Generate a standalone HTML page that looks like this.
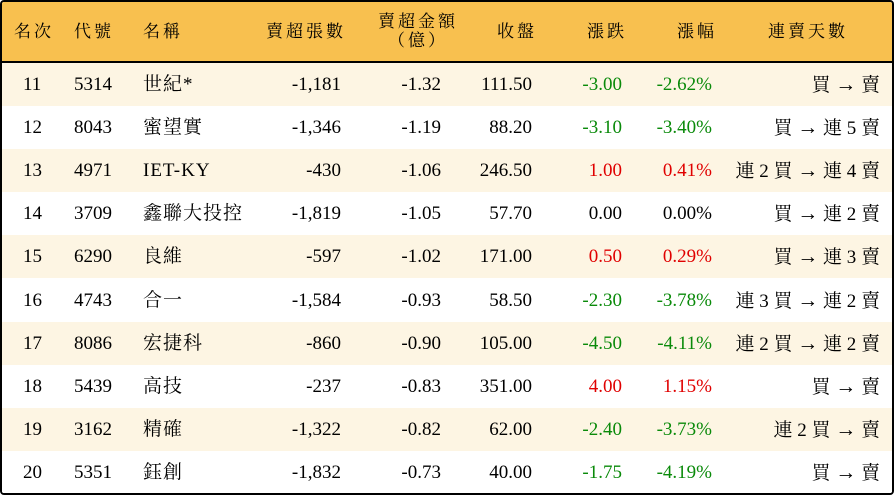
<!DOCTYPE html>
<html><head><meta charset="utf-8"><style>
*{margin:0;padding:0;box-sizing:border-box}
body{width:894px;height:496px;background:#fff;font-family:"Liberation Serif","Noto Serif CJK SC",serif;font-size:19px;color:#000;overflow:hidden}
#f{position:absolute;left:0;top:0;width:894px;height:495px;border:2px solid #000;border-radius:4px;overflow:hidden}
.h{position:absolute;left:0;top:0;width:890px;height:61px;background:#F8C04F;border-bottom:2px solid #000}
.r{position:absolute;left:0;width:890px;height:43px}
.c{position:absolute;top:0;line-height:43px;white-space:nowrap}
.h .c{line-height:59px;letter-spacing:3px;font-size:17px}
.g{color:#0a8a0a}.red{color:#e00000}
.n{letter-spacing:1px}
.a{font-size:21px}
</style></head><body><div id="f">
<div class="h">
<div class="c" style="left:12px">名次</div>
<div class="c" style="left:72px">代號</div>
<div class="c" style="left:141px">名稱</div>
<div class="c" style="right:546px">賣超張數</div>
<div class="c" style="left:376px;width:80px;text-align:center;line-height:19px;top:10px">賣超金額<br>（億）</div>
<div class="c" style="right:355px">收盤</div>
<div class="c" style="right:265px">漲跌</div>
<div class="c" style="right:175px">漲幅</div>
<div class="c" style="left:766px">連賣天數</div>
</div>
<div id="rows"></div>
</div>
<script>
var d=[
["11","5314","世紀*","-1,181","-1.32","111.50","-3.00","-2.62%","買 → 賣","g"],
["12","8043","蜜望實","-1,346","-1.19","88.20","-3.10","-3.40%","買 → 連 5 賣","g"],
["13","4971","IET-KY","-430","-1.06","246.50","1.00","0.41%","連 2 買 → 連 4 賣","red"],
["14","3709","鑫聯大投控","-1,819","-1.05","57.70","0.00","0.00%","買 → 連 2 賣",""],
["15","6290","良維","-597","-1.02","171.00","0.50","0.29%","買 → 連 3 賣","red"],
["16","4743","合一","-1,584","-0.93","58.50","-2.30","-3.78%","連 3 買 → 連 2 賣","g"],
["17","8086","宏捷科","-860","-0.90","105.00","-4.50","-4.11%","連 2 買 → 連 2 賣","g"],
["18","5439","高技","-237","-0.83","351.00","4.00","1.15%","買 → 賣","red"],
["19","3162","精確","-1,322","-0.82","62.00","-2.40","-3.73%","連 2 買 → 賣","g"],
["20","5351","鈺創","-1,832","-0.73","40.00","-1.75","-4.19%","買 → 賣","g"]];
var h="";
d.forEach(function(r,i){
var last=r[8].replace("→",'<span class="a">→</span>');
h+='<div class="r" style="top:'+(61+i*43.1)+'px;background:'+(i%2==0?'#FDF5E3':'#fff')+'">'+
'<div class="c" style="left:21px">'+r[0]+'</div>'+
'<div class="c" style="left:72px">'+r[1]+'</div>'+
'<div class="c n" style="left:141px">'+r[2]+'</div>'+
'<div class="c" style="right:551px">'+r[3]+'</div>'+
'<div class="c" style="right:451px">'+r[4]+'</div>'+
'<div class="c" style="right:360px">'+r[5]+'</div>'+
'<div class="c '+r[9]+'" style="right:270px">'+r[6]+'</div>'+
'<div class="c '+r[9]+'" style="right:180px">'+r[7]+'</div>'+
'<div class="c" style="right:12px">'+last+'</div></div>';});
document.getElementById("rows").innerHTML=h;
</script>
</body></html>
